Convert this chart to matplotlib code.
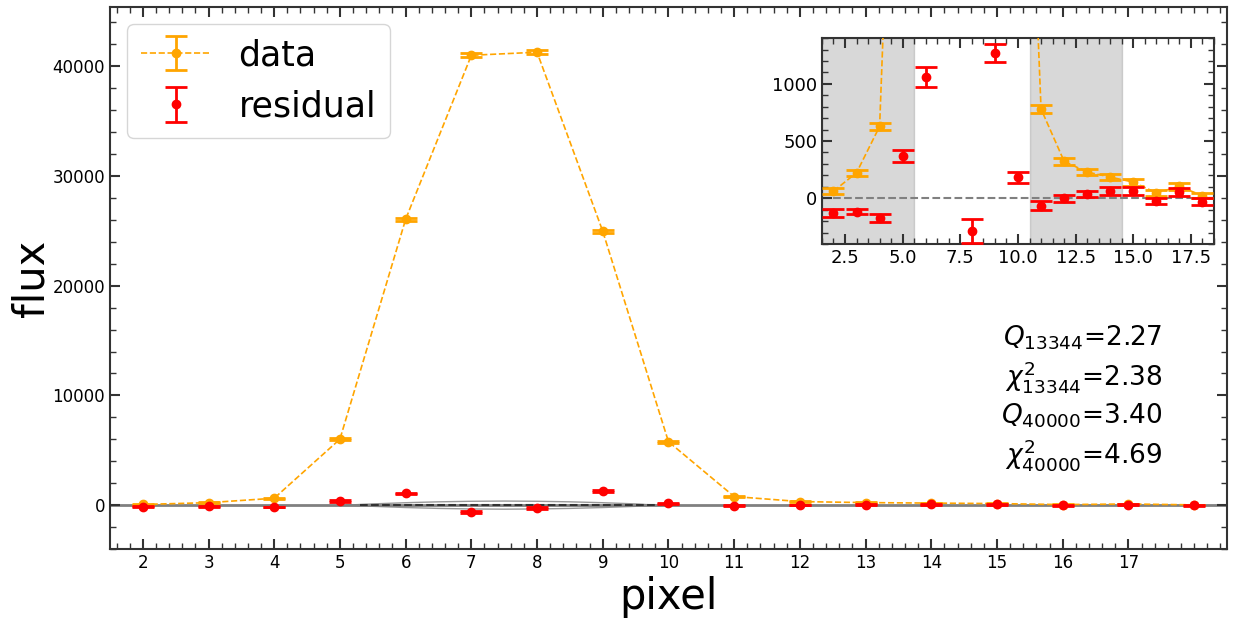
import numpy as np
import matplotlib.pyplot as plt
from matplotlib.ticker import MultipleLocator

# pixel index
pixel = [2, 3, 4, 5, 6, 7, 8, 9, 10, 11, 12, 13, 14, 15, 16, 17, 18]
# measured flux and its error
flux = [62, 223, 628, 6010, 26050, 41000, 41280, 24960, 5780, 780, 323, 229, 185, 141, 47, 103, 23]
flux_err = [28, 28, 32, 80, 160, 200, 200, 160, 80, 34, 31, 28, 25, 31, 24, 32, 25]
# residual (data - model) and its error
resid = [-132, -117, -173, 372, 1059, -638, -287, 1270, 182, -65, 0, 38, 62, 62, -20, 56, -29]
resid_err = [35, 25, 34, 51, 89, 100, 108, 82, 50, 41, 32, 26, 32, 32, 26, 32, 34]

# model envelope around zero
env_x = [5.1, 5.5, 6.0, 6.5, 7.0, 7.5, 8.0, 8.5, 9.0, 9.5, 9.8]
env_hi = [0, 110, 220, 300, 350, 370, 350, 300, 220, 110, 0]

xtick_vals = list(range(2, 18))
stats_text = ("$Q_{13344}$=2.27\n$\\chi^2_{13344}$=2.38\n"
              "$Q_{40000}$=3.40\n$\\chi^2_{40000}$=4.69")
shade_spans = [(1.5, 5.5), (10.5, 14.5)]


def style_axes(ax, lab_size):
    for sp in ax.spines.values():
        sp.set_color('#333333')
        sp.set_linewidth(1.5)
    ax.tick_params(which='both', direction='in', top=True, right=True,
                   colors='#333333', labelcolor='black', labelsize=lab_size)
    ax.tick_params(which='major', length=7, width=1.5)
    ax.tick_params(which='minor', length=4, width=1)


fig = plt.figure(figsize=(12.34, 6.26), dpi=100)
ax = fig.add_axes([0.0891, 0.123, 0.9052, 0.8658])

ax.axhline(0, color='gray', lw=2, zorder=1)
ax.plot(env_x, env_hi, color='gray', lw=1, alpha=0.8, zorder=1)
ax.plot(env_x, [-v for v in env_hi], color='gray', lw=1, alpha=0.8, zorder=1)
ax.plot([env_x[0] + 0.2, env_x[-1]], [0, 0], color='#333333', ls='--', lw=1.5, zorder=2)

ax.errorbar(pixel, flux, yerr=flux_err, fmt='o--', color='orange', ms=6, lw=1.2,
            elinewidth=2, capsize=8, capthick=2, label='data', zorder=3)
ax.errorbar(pixel, resid, yerr=resid_err, fmt='o', color='red', ms=6,
            elinewidth=2, capsize=8, capthick=2, label='residual', zorder=4)

ax.set_xlim(1.5, 18.5)
ax.set_ylim(-4000, 45400)
ax.set_xticks(xtick_vals)
ax.xaxis.set_minor_locator(MultipleLocator(0.2))
ax.yaxis.set_major_locator(MultipleLocator(10000))
ax.yaxis.set_minor_locator(MultipleLocator(2000))
style_axes(ax, 12)
ax.set_xlabel('pixel', fontsize=30, labelpad=3)
ax.set_ylabel('flux', fontsize=30, labelpad=0)
ax.legend(loc='upper left', fontsize=25, borderpad=0.4, labelspacing=0.5,
          handlelength=2.0, handletextpad=0.8)

ax.text(1162 / 1234, 1 - 398 / 626, stats_text, transform=fig.transFigure,
        fontsize=19, ha='right', va='center', multialignment='right', linespacing=1.28)

# zoomed inset
axin = fig.add_axes([0.6661, 0.6102, 0.3177, 0.329])
for lo, hi in shade_spans:
    axin.axvspan(lo, hi, color='gray', alpha=0.3, zorder=0)
axin.axhline(0, color='gray', ls='--', lw=1.5, zorder=1)
axin.errorbar(pixel, flux, yerr=flux_err, fmt='o--', color='orange', ms=6, lw=1.2,
              elinewidth=2, capsize=8, capthick=2, zorder=3)
axin.errorbar(pixel, resid, yerr=resid_err, fmt='o', color='red', ms=6,
              elinewidth=2, capsize=8, capthick=2, zorder=4)
axin.set_xlim(1.5, 18.5)
axin.set_ylim(-400, 1400)
axin.xaxis.set_major_locator(MultipleLocator(2.5))
axin.xaxis.set_minor_locator(MultipleLocator(0.5))
axin.yaxis.set_major_locator(MultipleLocator(500))
axin.yaxis.set_minor_locator(MultipleLocator(100))
style_axes(axin, 13)

fig.savefig('out.png', dpi=100)
